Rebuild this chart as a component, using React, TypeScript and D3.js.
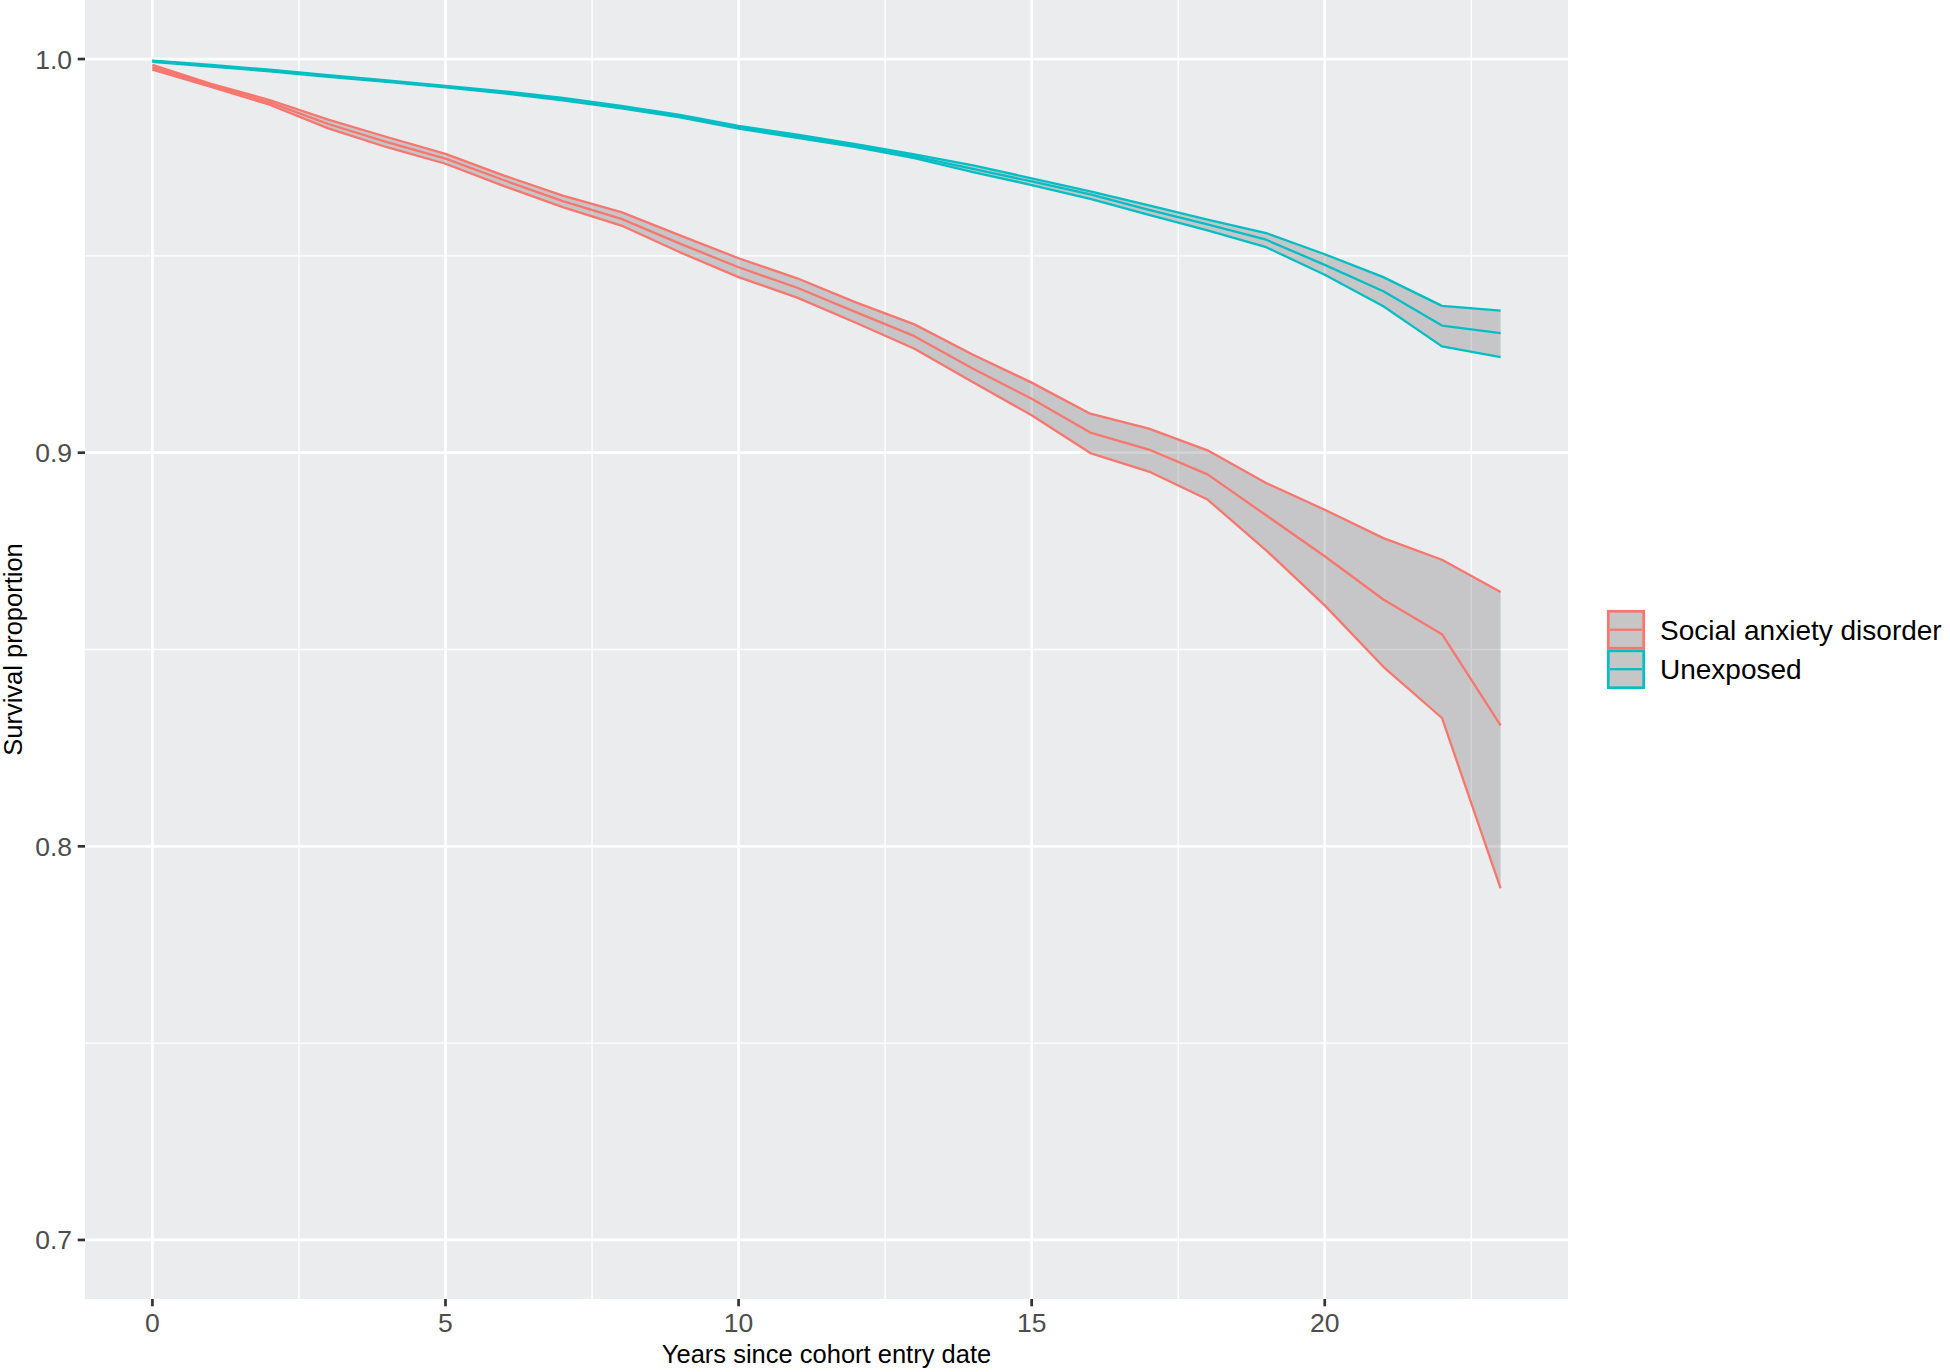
import React from 'react';
import * as d3 from 'd3';

// follow-up years
const years = [0, 1, 2, 3, 4, 5, 6, 7, 8, 9, 10, 11, 12, 13, 14, 15, 16, 17, 18, 19, 20, 21, 22, 23];

// Social anxiety disorder
const sadEst = [0.9979, 0.9933, 0.9890, 0.9835, 0.9789, 0.9747, 0.9692, 0.9639, 0.9594, 0.9531, 0.9471, 0.9419,
  0.9357, 0.9296, 0.9213, 0.9137, 0.9051, 0.9008, 0.8945, 0.8841, 0.8737, 0.8627, 0.8539, 0.8307];
const sadLower = [0.9973, 0.9929, 0.9884, 0.9824, 0.9776, 0.9734, 0.9677, 0.9624, 0.9577, 0.9509, 0.9446, 0.9394,
  0.9330, 0.9264, 0.9179, 0.9095, 0.8999, 0.8952, 0.8881, 0.8752, 0.8612, 0.8456, 0.8326, 0.7893];
const sadUpper = [0.9985, 0.9937, 0.9896, 0.9846, 0.9802, 0.9759, 0.9704, 0.9653, 0.9611, 0.9552, 0.9494, 0.9443,
  0.9382, 0.9326, 0.9249, 0.9178, 0.9099, 0.9061, 0.9006, 0.8923, 0.8855, 0.8783, 0.8728, 0.8646];

// Unexposed
const unexpEst = [0.9995, 0.9983, 0.9971, 0.9957, 0.9944, 0.9930, 0.9916, 0.9898, 0.9878, 0.9855, 0.9827, 0.9804,
  0.9780, 0.9753, 0.9721, 0.9689, 0.9656, 0.9617, 0.9580, 0.9541, 0.9477, 0.9410, 0.9323, 0.9304];
const unexpLower = [0.9993, 0.9981, 0.9969, 0.9955, 0.9942, 0.9928, 0.9913, 0.9895, 0.9875, 0.9852, 0.9823, 0.9800,
  0.9776, 0.9748, 0.9713, 0.9680, 0.9645, 0.9604, 0.9565, 0.9522, 0.9452, 0.9372, 0.9270, 0.9243];
const unexpUpper = [0.9996, 0.9985, 0.9973, 0.9959, 0.9946, 0.9932, 0.9918, 0.9901, 0.9881, 0.9858, 0.9830, 0.9808,
  0.9784, 0.9758, 0.9730, 0.9697, 0.9664, 0.9628, 0.9592, 0.9558, 0.9504, 0.9446, 0.9373, 0.9361];

const xMajor = [0, 5, 10, 15, 20];
const xMinor = [2.5, 7.5, 12.5, 17.5, 22.5];
const yMajor = [0.7, 0.8, 0.9, 1.0];
const yMinor = [0.75, 0.85, 0.95];

const groups = [
  { name: 'Social anxiety disorder', color: '#F8766D', est: sadEst, lo: sadLower, hi: sadUpper },
  { name: 'Unexposed', color: '#00BFC4', est: unexpEst, lo: unexpLower, hi: unexpUpper },
];

const W = 1950;
const H = 1372;
const panel = { left: 85, right: 1568, top: 0, bottom: 1299 };
const font = '"Liberation Sans", Arial, Helvetica, sans-serif';

const App: React.FC = () => {
  const x = d3.scaleLinear().domain([-1.15, 24.15]).range([panel.left, panel.right]);
  const y = d3.scaleLinear().domain([0.685, 1.015]).range([panel.bottom, panel.top]);

  const line = (vals: number[]) =>
    d3.line<number>().x((_, i) => x(years[i])).y(d => y(d))(vals) || '';
  const area = (lo: number[], hi: number[]) =>
    d3.area<number>()
      .x(d => x(d))
      .y0((_, i) => y(lo[i]))
      .y1((_, i) => y(hi[i]))(years) || '';

  return (
    <svg width={W} height={H} style={{ position: 'absolute', left: 0, top: 0, background: '#fff' }}
      fontFamily={font}>
      <rect x={panel.left} y={panel.top} width={panel.right - panel.left} height={panel.bottom - panel.top}
        fill="#EBECEE" />
      {yMinor.map(v => (
        <line key={'ym' + v} x1={panel.left} x2={panel.right} y1={y(v)} y2={y(v)} stroke="#fff" strokeWidth={1.35} />
      ))}
      {xMinor.map(v => (
        <line key={'xm' + v} x1={x(v)} x2={x(v)} y1={panel.top} y2={panel.bottom} stroke="#fff" strokeWidth={1.35} />
      ))}
      {yMajor.map(v => (
        <line key={'yM' + v} x1={panel.left} x2={panel.right} y1={y(v)} y2={y(v)} stroke="#fff" strokeWidth={2.7} />
      ))}
      {xMajor.map(v => (
        <line key={'xM' + v} x1={x(v)} x2={x(v)} y1={panel.top} y2={panel.bottom} stroke="#fff" strokeWidth={2.7} />
      ))}

      {groups.map(g => (
        <path key={'r' + g.name} d={area(g.lo, g.hi)} fill="#7F7F7F" fillOpacity={0.34} />
      ))}
      {groups.map(g => (
        <g key={'l' + g.name} fill="none" stroke={g.color} strokeWidth={2.3} strokeLinejoin="round">
          <path d={line(g.hi)} />
          <path d={line(g.lo)} />
          <path d={line(g.est)} />
        </g>
      ))}

      {/* y axis */}
      {yMajor.map(v => (
        <g key={'yt' + v}>
          <line x1={panel.left - 7.3} x2={panel.left} y1={y(v)} y2={y(v)} stroke="#333333" strokeWidth={2.7} />
          <text x={72} y={y(v)} dy="0.36em" textAnchor="end" fontSize={26.5} fill="#4D4D4D">{v.toFixed(1)}</text>
        </g>
      ))}
      {/* x axis */}
      {xMajor.map(v => (
        <g key={'xt' + v}>
          <line x1={x(v)} x2={x(v)} y1={panel.bottom} y2={panel.bottom + 7.3} stroke="#333333" strokeWidth={2.7} />
          <text x={x(v)} y={1331.5} textAnchor="middle" fontSize={26.5} fill="#4D4D4D">{v}</text>
        </g>
      ))}
      <text x={(panel.left + panel.right) / 2} y={1363} textAnchor="middle" fontSize={25.5} fill="#000">
        Years since cohort entry date
      </text>
      <text transform={`translate(21.5,${(panel.top + panel.bottom) / 2}) rotate(-90)`} textAnchor="middle"
        fontSize={25.5} fill="#000">
        Survival proportion
      </text>

      {/* legend */}
      {groups.map((g, i) => {
        const top = 610 + i * 39.5;
        return (
          <g key={'lg' + g.name}>
            <rect x={1608.3} y={top + 1.3} width={35.4} height={36.9} fill="#C6C6C6" stroke={g.color} strokeWidth={2.7} />
            <line x1={1610} x2={1642} y1={top + 19.7} y2={top + 19.7} stroke={g.color} strokeWidth={2.3} />
            <text x={1660} y={top + 29.5} fontSize={28} fill="#000">{g.name}</text>
          </g>
        );
      })}
    </svg>
  );
};

export default App;
